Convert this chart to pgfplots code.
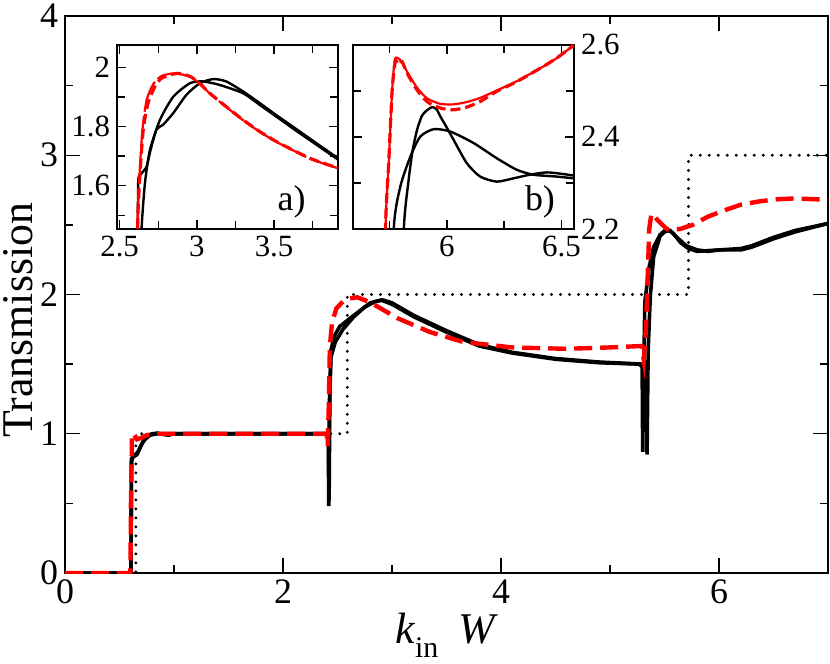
\documentclass[border=0pt]{standalone}
\usepackage{fontspec}
\setmainfont{Liberation Serif}
\usepackage{pgfplots}
\pgfplotsset{compat=1.18}

\pgfplotsset{
  trans axis/.style={
    scale only axis,
    anchor=south west,
    tick align=inside,
    axis line style={line width=0.9bp},
    tick style={line width=0.7bp, black},
    /pgf/number format/assume math mode=true,
  },
  blk/.style={black, line width=1.8bp},
  reddash/.style={red, line width=2.2bp, dash pattern=on 9bp off 4bp},
}

\begin{document}
\begin{tikzpicture}
\path[use as bounding box] (-32.5bp,-45.5bp) rectangle (382.5bp,286.5bp);

% main plot
\begin{axis}[
  trans axis,
  at={(0,0)},
  width=381.5bp, height=278.5bp,
  xmin=0, xmax=7, ymin=0, ymax=4,
  xtick={0,2,4,6}, minor xtick={1,3,5},
  ytick={0,1,2,3,4}, minor ytick={0.5,1.5,2.5,3.5},
  major tick length=7.5bp, minor tick length=4bp,
  tick label style={font=\rmfamily\fontsize{18}{18}\selectfont},
  every axis x label/.style={at={(axis description cs:0.5,0)}, anchor=base, yshift=-35bp},
  every axis y label/.style={at={(axis description cs:-0.042,0.454)}, rotate=90, anchor=base},
  label style={font=\rmfamily\fontsize{22}{22}\selectfont},
  xlabel={\textit{k}\raisebox{-0.33em}{\fontsize{15}{15}\selectfont in}\hspace{0.45em}\textit{W}},
  ylabel={Transmission},
]
% ideal steps
\addplot[black, line width=1.6bp, line cap=round, dash pattern=on 0bp off 4.5bp] coordinates {
  (0,0) (0.65,0) (0.65,1) (2.59,1) (2.59,2) (5.72,2) (5.72,3) (7,3)};
% black, first
\addplot[blk] coordinates {
  (0,0) (0.605,0) (0.61,0.80) (0.62,0.83) (0.66,0.85) (0.70,0.92) (0.75,0.98)
  (0.80,1.0) (0.85,1.005) (0.90,0.995) (0.95,0.99) (1.0,1.0) (2.40,1.0)
  (2.415,0.98) (2.42,0.48) (2.425,1.2) (2.44,1.6) (2.47,1.70) (2.52,1.77)
  (2.60,1.82) (2.70,1.88) (2.80,1.94) (2.90,1.96) (3.0,1.93) (3.2,1.84)
  (3.5,1.73) (3.8,1.63) (4.1,1.58) (4.5,1.535) (4.9,1.51) (5.27,1.50)
  (5.295,1.48) (5.30,0.87) (5.31,1.5) (5.32,1.95) (5.36,2.20) (5.40,2.34)
  (5.46,2.43) (5.52,2.47) (5.58,2.44) (5.65,2.37) (5.72,2.33) (5.80,2.31)
  (5.90,2.315) (6.0,2.32) (6.2,2.32) (6.3,2.34) (6.4,2.37) (6.5,2.40)
  (6.7,2.45) (6.85,2.48) (7.0,2.51)};
% black, second
\addplot[blk] coordinates {
  (0,0) (0.605,0) (0.61,0.82) (0.63,0.84) (0.67,0.87) (0.72,0.95) (0.78,0.99)
  (0.85,1.0) (2.40,1.0) (2.418,0.97) (2.423,0.52) (2.43,1.3) (2.44,1.55)
  (2.48,1.66) (2.55,1.75) (2.65,1.84) (2.75,1.91) (2.85,1.95) (2.92,1.96)
  (3.0,1.94) (3.2,1.85) (3.5,1.74) (3.8,1.64) (4.1,1.585) (4.5,1.54)
  (4.9,1.515) (5.30,1.50) (5.335,1.48) (5.34,0.85) (5.35,1.6) (5.37,1.99)
  (5.40,2.27) (5.46,2.42) (5.50,2.45) (5.55,2.46) (5.60,2.42) (5.70,2.35)
  (5.80,2.32) (5.90,2.31) (6.0,2.32) (6.1,2.325) (6.2,2.33) (6.3,2.35)
  (6.4,2.38) (6.5,2.41) (6.7,2.46) (7.0,2.51)};
% red dashed
\addplot[reddash] coordinates {
  (0,0) (0.60,0) (0.605,0.5) (0.615,1.0) (0.63,1.0) (0.66,0.96) (0.70,0.97)
  (0.75,0.99) (0.85,1.0) (2.40,1.0) (2.41,0.91) (2.42,1.2) (2.43,1.63)
  (2.45,1.80) (2.49,1.90) (2.55,1.95) (2.60,1.97) (2.68,1.98) (2.75,1.96)
  (2.83,1.93) (3.05,1.83) (3.35,1.73) (3.65,1.66) (4.1,1.62) (4.6,1.61)
  (5.0,1.62) (5.29,1.63) (5.31,1.53) (5.33,1.75) (5.34,1.99) (5.36,2.47)
  (5.38,2.58) (5.40,2.57) (5.43,2.54) (5.52,2.47) (5.64,2.47) (5.76,2.50)
  (5.90,2.56) (6.07,2.61) (6.20,2.645) (6.38,2.67) (6.55,2.685) (6.70,2.69)
  (6.85,2.685) (7.0,2.68)};
\end{axis}

% inset a
\begin{axis}[
  trans axis,
  at={(26bp,172bp)},
  width=110.5bp, height=92bp,
  axis background/.style={fill=white},
  xmin=2.483, xmax=3.914, ymin=1.454, ymax=2.075,
  xtick={2.5,3,3.5}, minor xtick={2.75,3.25,3.75},
  ytick={1.6,1.8,2}, minor ytick={1.5,1.7,1.9},
  major tick length=4.5bp, minor tick length=4bp,
  tick label style={font=\rmfamily\fontsize{15.5}{15.5}\selectfont},
  yticklabel style={/pgf/number format/fixed, /pgf/number format/precision=1},
]
\addplot[black, line width=1.2bp, smooth, tension=0.4] coordinates {
  (2.618,1.3) (2.62,1.61) (2.64,1.64) (2.675,1.665) (2.70,1.72) (2.739,1.79)
  (2.78,1.805) (2.847,1.845) (2.933,1.907) (3.02,1.946) (3.106,1.96) (3.19,1.952)
  (3.30,1.918) (3.407,1.879) (3.51,1.84) (3.62,1.80) (3.77,1.745) (3.914,1.693)};
\addplot[black, line width=1.2bp, smooth, tension=0.4] coordinates {
  (2.638,1.3) (2.642,1.454) (2.664,1.609) (2.696,1.72) (2.761,1.822) (2.847,1.90)
  (2.955,1.946) (3.04,1.952) (3.149,1.94) (3.30,1.912) (3.407,1.873) (3.51,1.835)
  (3.62,1.794) (3.77,1.74) (3.914,1.688)};
\addplot[red, line width=1.6bp, dash pattern=on 5bp off 2.5bp, smooth, tension=0.4] coordinates {
  (2.612,1.0) (2.616,1.454) (2.631,1.63) (2.653,1.79) (2.685,1.88) (2.739,1.946)
  (2.78,1.965) (2.825,1.974) (2.87,1.979) (2.90,1.978) (2.94,1.972) (2.976,1.963)
  (3.03,1.94) (3.084,1.912) (3.19,1.867) (3.30,1.822) (3.407,1.783) (3.515,1.749)
  (3.62,1.721) (3.73,1.693) (3.82,1.676) (3.914,1.66)};
\addplot[red, line width=1.1bp, dash pattern=on 16bp off 2bp, smooth, tension=0.4] coordinates {
  (2.612,1.0) (2.616,1.454) (2.628,1.63) (2.648,1.79) (2.675,1.89) (2.72,1.945)
  (2.77,1.97) (2.83,1.978) (2.88,1.978) (2.93,1.972) (2.976,1.962) (3.03,1.939)
  (3.084,1.911) (3.19,1.866) (3.30,1.821) (3.407,1.782) (3.515,1.748)
  (3.62,1.72) (3.73,1.692) (3.82,1.675) (3.914,1.659)};
\node[anchor=base, font=\rmfamily\fontsize{18}{18}\selectfont] at (axis description cs:0.79,0.10) {a)};
\end{axis}

% inset b
\begin{axis}[
  trans axis,
  at={(144bp,172bp)},
  width=110.5bp, height=92bp,
  axis background/.style={fill=white},
  xmin=5.59, xmax=6.555, ymin=2.2, ymax=2.6,
  xtick={6,6.5}, minor xtick={5.75,6.25},
  ytick={2.2,2.4,2.6}, minor ytick={2.3,2.5},
  yticklabel pos=right,
  major tick length=4.5bp, minor tick length=4bp,
  tick label style={font=\rmfamily\fontsize{15.5}{15.5}\selectfont},
  yticklabel style={/pgf/number format/fixed, /pgf/number format/precision=1},
]
\addplot[black, line width=1.2bp, smooth, tension=0.4] coordinates {
  (5.80,1.9) (5.812,2.2) (5.833,2.307) (5.85,2.37) (5.87,2.416) (5.89,2.445)
  (5.906,2.455) (5.935,2.465) (5.955,2.46) (5.971,2.445) (6.0,2.42) (6.029,2.394)
  (6.087,2.343) (6.145,2.314) (6.217,2.303) (6.29,2.31) (6.362,2.318)
  (6.435,2.323) (6.5,2.32) (6.555,2.316)};
\addplot[black, line width=1.2bp, smooth, tension=0.4] coordinates {
  (5.76,1.9) (5.768,2.2) (5.797,2.293) (5.841,2.358) (5.884,2.401) (5.942,2.417)
  (6.014,2.412) (6.116,2.387) (6.217,2.354) (6.304,2.329) (6.377,2.318)
  (6.478,2.314) (6.555,2.31)};
\addplot[red, line width=1.6bp, dash pattern=on 5bp off 2.5bp, smooth, tension=0.4] coordinates {
  (5.725,1.8) (5.732,2.2) (5.746,2.343) (5.761,2.502) (5.775,2.564) (5.79,2.557)
  (5.804,2.564) (5.826,2.539) (5.87,2.502) (5.913,2.477) (5.971,2.463)
  (6.029,2.459) (6.087,2.465) (6.145,2.477) (6.217,2.499) (6.304,2.52)
  (6.406,2.549) (6.478,2.571) (6.555,2.6)};
\addplot[red, line width=1.1bp, smooth, tension=0.4] coordinates {
  (5.725,1.8) (5.732,2.2) (5.746,2.343) (5.761,2.502) (5.772,2.567) (5.785,2.572)
  (5.80,2.565) (5.826,2.542) (5.87,2.507) (5.913,2.484) (5.971,2.472)
  (6.029,2.471) (6.087,2.476) (6.145,2.485) (6.217,2.501) (6.304,2.521)
  (6.406,2.549) (6.478,2.571) (6.555,2.6)};
\node[anchor=base, font=\rmfamily\fontsize{18}{18}\selectfont] at (axis description cs:0.846,0.10) {b)};
\end{axis}
\end{tikzpicture}
\end{document}
